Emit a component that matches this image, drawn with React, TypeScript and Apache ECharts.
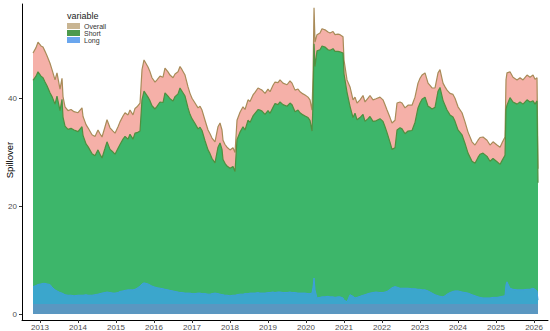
import React, { useEffect, useRef } from "react";
import * as echarts from "echarts";

const dates = [
  2012.816, 2012.895, 2012.947, 2013.026, 2013.079, 2013.132, 2013.184, 2013.263, 2013.316, 2013.395,
  2013.447, 2013.526, 2013.579, 2013.605, 2013.658, 2013.737, 2013.816, 2013.895, 2014.0, 2014.105,
  2014.132, 2014.211, 2014.263, 2014.368, 2014.447, 2014.526, 2014.579, 2014.632, 2014.711, 2014.763,
  2014.842, 2014.921, 2014.974, 2015.053, 2015.105, 2015.184, 2015.237, 2015.316, 2015.368, 2015.447,
  2015.5, 2015.553, 2015.632, 2015.684, 2015.737, 2015.842, 2015.895, 2015.947, 2016.026, 2016.079,
  2016.158, 2016.237, 2016.289, 2016.368, 2016.421, 2016.5, 2016.553, 2016.632, 2016.684, 2016.737,
  2016.816, 2016.895, 2016.947, 2017.0, 2017.079, 2017.158, 2017.211, 2017.263, 2017.342, 2017.421,
  2017.474, 2017.526, 2017.605, 2017.684, 2017.737, 2017.789, 2017.816, 2017.868, 2017.921, 2018.0,
  2018.079, 2018.132, 2018.184, 2018.263, 2018.342, 2018.395, 2018.474, 2018.526, 2018.605, 2018.658,
  2018.737, 2018.789, 2018.842, 2018.921, 2019.0, 2019.053, 2019.132, 2019.184, 2019.263, 2019.316,
  2019.395, 2019.5, 2019.579, 2019.632, 2019.711, 2019.789, 2019.842, 2019.921, 2019.974, 2020.053,
  2020.105, 2020.158, 2020.184, 2020.211, 2020.237, 2020.289, 2020.368, 2020.421, 2020.5, 2020.579,
  2020.632, 2020.711, 2020.763, 2020.842, 2020.895, 2020.974, 2021.0, 2021.079, 2021.158, 2021.237,
  2021.289, 2021.342, 2021.421, 2021.5, 2021.553, 2021.632, 2021.684, 2021.763, 2021.842, 2021.947,
  2022.026, 2022.079, 2022.132, 2022.211, 2022.263, 2022.342, 2022.395, 2022.474, 2022.526, 2022.605,
  2022.684, 2022.789, 2022.868, 2022.947, 2023.0, 2023.053, 2023.132, 2023.211, 2023.263, 2023.316,
  2023.395, 2023.474, 2023.526, 2023.605, 2023.658, 2023.711, 2023.789, 2023.868, 2023.921, 2024.0,
  2024.105, 2024.184, 2024.263, 2024.368, 2024.447, 2024.526, 2024.579, 2024.658, 2024.763, 2024.842,
  2024.921, 2025.026, 2025.105, 2025.158, 2025.237, 2025.263, 2025.289, 2025.368, 2025.447, 2025.553,
  2025.632, 2025.711, 2025.816, 2025.895, 2025.974, 2026.026, 2026.079, 2026.105,
];

const overall = [
  48.5, 49.5, 50.5, 49.8, 49.6, 48.8, 48.0, 46.6, 45.4, 43.5,
  44.8, 41.8, 43.8, 40.4, 38.5, 37.8, 38.0, 37.6, 37.4, 38.3,
  36.7, 35.2, 34.6, 33.3, 33.0, 34.2, 33.5, 32.9, 34.8, 36.1,
  34.6, 34.0, 33.6, 34.8, 35.7, 36.8, 37.4, 37.0, 37.9, 37.0,
  38.2, 38.5, 39.2, 45.4, 47.2, 45.9, 45.0, 43.9, 43.1, 43.5,
  44.2, 44.0, 45.7, 45.0, 44.4, 43.9, 44.6, 45.0, 46.0, 45.4,
  44.4, 42.2, 41.0, 40.1, 39.2, 38.3, 38.6, 37.9, 36.0, 34.2,
  33.5, 32.7, 32.0, 34.8, 35.5, 34.2, 32.3, 31.5, 31.0, 30.5,
  30.9, 30.0, 36.0, 37.5, 38.5, 38.0, 39.8, 39.5, 40.7, 41.2,
  42.0, 41.8, 41.6, 41.0, 41.8, 41.3, 42.5, 43.1, 43.0, 43.5,
  42.9, 42.6, 43.3, 42.9, 41.6, 41.8, 41.3, 40.9, 40.7, 40.3,
  39.8, 37.9, 44.0, 56.9, 50.5, 51.9, 52.2, 53.0, 52.8, 52.4,
  52.2, 52.5, 51.9, 52.0, 51.9, 51.5, 47.2, 43.5, 42.2, 39.8,
  40.3, 39.2, 39.8, 40.6, 39.4, 40.1, 40.6, 39.8, 40.0, 40.3,
  39.8, 38.9, 37.9, 36.5, 35.5, 36.0, 39.2, 39.4, 39.2, 38.3,
  38.8, 38.8, 40.3, 42.9, 43.8, 44.4, 44.8, 42.9, 42.5, 42.0,
  42.0, 44.8, 45.4, 42.9, 42.2, 41.6, 41.0, 40.8, 40.1, 38.5,
  37.4, 35.7, 33.8, 32.0, 31.4, 32.3, 32.8, 32.9, 32.3, 31.4,
  32.0, 31.4, 31.0, 31.8, 32.9, 43.5, 44.8, 45.0, 44.0, 43.5,
  43.9, 43.5, 44.4, 44.0, 44.4, 43.6, 43.9, 27.0,
];

const short = [
  43.4, 44.2, 45.0, 44.2, 43.9, 43.1, 42.4, 41.1, 40.4, 39.0,
  40.5, 37.8, 39.9, 36.6, 34.9, 34.3, 34.5, 34.2, 33.9, 34.8,
  33.2, 31.6, 31.1, 29.8, 29.4, 30.5, 29.7, 29.0, 30.8, 32.0,
  30.6, 30.1, 29.7, 30.8, 31.5, 32.5, 33.0, 32.5, 33.4, 32.5,
  33.6, 33.7, 34.0, 39.8, 41.4, 40.3, 39.6, 38.7, 38.1, 38.6,
  39.4, 39.3, 41.1, 40.5, 40.0, 39.6, 40.4, 40.9, 42.0, 41.4,
  40.5, 38.3, 37.1, 36.3, 35.4, 34.4, 34.7, 34.1, 32.2, 30.5,
  29.8, 28.9, 28.1, 31.0, 31.8, 30.6, 28.7, 28.0, 27.5, 27.1,
  27.4, 26.5, 32.4, 33.8, 34.8, 34.2, 36.0, 35.6, 36.8, 37.3,
  38.0, 37.9, 37.7, 37.1, 37.8, 37.3, 38.4, 39.1, 38.9, 39.4,
  38.9, 38.6, 39.2, 38.9, 37.6, 37.9, 37.4, 37.0, 36.8, 36.5,
  36.0, 34.0, 39.0, 50.2, 46.0, 48.9, 49.1, 49.8, 49.6, 49.1,
  49.0, 49.3, 48.8, 48.8, 48.7, 48.5, 44.6, 41.2, 38.6, 36.5,
  37.3, 36.1, 36.5, 37.1, 35.8, 36.3, 36.7, 35.8, 35.9, 36.3,
  35.8, 34.8, 33.7, 31.9, 30.6, 30.9, 34.2, 34.6, 34.4, 33.5,
  34.0, 34.1, 35.6, 38.3, 39.2, 39.9, 40.3, 38.6, 38.4, 38.1,
  38.4, 41.4, 42.1, 39.7, 38.8, 37.9, 37.0, 36.6, 35.8, 34.2,
  33.3, 31.7, 29.9, 28.4, 28.0, 29.1, 29.7, 29.9, 29.3, 28.4,
  28.9, 28.3, 27.8, 28.5, 29.5, 38.0, 38.8, 40.2, 39.4, 39.0,
  39.4, 39.0, 39.8, 39.4, 39.6, 39.0, 39.6, 24.4,
];

const long = [
  5.1, 5.3, 5.5, 5.6, 5.7, 5.7, 5.6, 5.5, 5.0, 4.5,
  4.3, 4.0, 3.9, 3.8, 3.6, 3.5, 3.5, 3.4, 3.5, 3.5,
  3.5, 3.6, 3.5, 3.5, 3.6, 3.7, 3.8, 3.9, 4.0, 4.1,
  4.0, 3.9, 3.9, 4.0, 4.2, 4.3, 4.4, 4.5, 4.5, 4.5,
  4.6, 4.8, 5.2, 5.6, 5.8, 5.6, 5.4, 5.2, 5.0, 4.9,
  4.8, 4.7, 4.6, 4.5, 4.4, 4.3, 4.2, 4.1, 4.0, 4.0,
  3.9, 3.9, 3.9, 3.8, 3.8, 3.9, 3.9, 3.8, 3.8, 3.7,
  3.7, 3.8, 3.9, 3.8, 3.7, 3.6, 3.6, 3.5, 3.5, 3.4,
  3.5, 3.5, 3.6, 3.7, 3.7, 3.8, 3.8, 3.9, 3.9, 3.9,
  4.0, 3.9, 3.9, 3.9, 4.0, 4.0, 4.1, 4.0, 4.1, 4.1,
  4.0, 4.0, 4.1, 4.0, 4.0, 3.9, 3.9, 3.9, 3.9, 3.8,
  3.8, 3.9, 5.0, 6.7, 4.5, 3.0, 3.1, 3.2, 3.2, 3.3,
  3.2, 3.2, 3.1, 3.2, 3.2, 3.0, 2.6, 2.3, 3.6, 3.3,
  3.0, 3.1, 3.3, 3.5, 3.6, 3.8, 3.9, 4.0, 4.1, 4.0,
  4.0, 4.1, 4.2, 4.6, 4.9, 5.1, 5.0, 4.8, 4.8, 4.8,
  4.8, 4.7, 4.7, 4.6, 4.6, 4.5, 4.5, 4.3, 4.1, 3.9,
  3.6, 3.4, 3.3, 3.2, 3.4, 3.7, 4.0, 4.2, 4.3, 4.3,
  4.1, 4.0, 3.9, 3.6, 3.4, 3.2, 3.1, 3.0, 3.0, 3.0,
  3.1, 3.1, 3.2, 3.3, 3.4, 5.5, 6.0, 4.8, 4.6, 4.5,
  4.5, 4.5, 4.6, 4.6, 4.8, 4.6, 4.3, 2.6,
];

const yearTicks = [2013, 2014, 2015, 2016, 2017, 2018, 2019, 2020, 2021, 2022, 2023, 2024, 2025, 2026];
const yTicks = [0, 20, 40];
const legendItems = ["Overall", "Short", "Long"];

const FONT = "Liberation Sans, Arial, sans-serif";

export default function App() {
  const ref = useRef<HTMLDivElement>(null);

  useEffect(() => {
    if (!ref.current) return;
    const chart = echarts.init(ref.current, undefined, { renderer: "svg" });
    const pairs = (vals: number[]) => dates.map((d, i) => [d, vals[i]]);

    const longFill = new echarts.graphic.LinearGradient(
      0, 0, 0, 331,
      [
        { offset: 0, color: "#3ba6cc" },
        { offset: 0.918, color: "#3ba6cc" },
        { offset: 0.918, color: "#5a97c1" },
        { offset: 1, color: "#5a97c1" },
      ],
      true
    );

    const keyColors = ["#c9b592", "#4c9a4c", "#6aa6ee"];
    const legendGraphics: any[] = [
      {
        type: "text",
        x: 67,
        y: 11,
        style: { text: "variable", font: `9px ${FONT}`, fill: "#222", lineHeight: 9 },
      },
      {
        type: "text",
        x: 9,
        y: 160,
        rotation: Math.PI / 2,
        style: {
          text: "Spillover",
          font: `9.5px ${FONT}`,
          fill: "#000",
          align: "center",
          verticalAlign: "middle",
        },
      },
    ];
    legendItems.forEach((name, i) => {
      legendGraphics.push({
        type: "rect",
        shape: { x: 67, y: 23 + i * 7, width: 13, height: 6 },
        style: { fill: keyColors[i] },
      });
      legendGraphics.push({
        type: "text",
        x: 84,
        y: 22.8 + i * 7,
        style: { text: name, font: `7px ${FONT}`, fill: "#333", lineHeight: 7, verticalAlign: "top" },
      });
    });

    chart.setOption({
      animation: false,
      grid: { left: 22, right: 2, top: 4, bottom: 11, containLabel: false, outerBoundsMode: "none" },
      xAxis: {
        type: "value",
        min: 2012.526,
        max: 2026.368,
        splitLine: { show: false },
        axisLine: { show: true, onZero: false, lineStyle: { color: "#000", width: 1 } },
        axisTick: { show: true, length: 3, customValues: yearTicks, lineStyle: { color: "#333" } },
        axisLabel: {
          show: true,
          customValues: yearTicks,
          formatter: (v: number) => String(Math.round(v)),
          fontSize: 8,
          fontFamily: FONT,
          color: "#4d4d4d",
          margin: 3,
        },
      },
      yAxis: {
        type: "value",
        min: -1.1,
        max: 57.6,
        splitLine: { show: false },
        axisLine: { show: true, onZero: false, lineStyle: { color: "#000", width: 1 } },
        axisTick: { show: true, length: 3, customValues: yTicks, lineStyle: { color: "#333" } },
        axisLabel: {
          show: true,
          customValues: yTicks,
          fontSize: 8,
          fontFamily: FONT,
          color: "#4d4d4d",
          margin: 5,
        },
      },
      graphic: legendGraphics,
      series: [
        {
          name: "Overall",
          type: "line",
          data: pairs(overall),
          showSymbol: false,
          symbol: "none",
          lineStyle: { color: "#a88b58", width: 1.2 },
          areaStyle: { color: "#f5b0a8", opacity: 1 },
          z: 1,
        },
        {
          name: "Short",
          type: "line",
          data: pairs(short),
          showSymbol: false,
          symbol: "none",
          lineStyle: { color: "#4f8f3f", width: 1.2 },
          areaStyle: { color: "#3db66a", opacity: 1 },
          z: 2,
        },
        {
          name: "Long",
          type: "line",
          data: pairs(long),
          showSymbol: false,
          symbol: "none",
          lineStyle: { color: "#3e9fdc", width: 1 },
          areaStyle: { color: longFill, opacity: 1 },
          z: 3,
        },
      ],
    });

    return () => chart.dispose();
  }, []);

  return (
    <div
      ref={ref}
      style={{ position: "fixed", left: 0, top: 0, width: 550, height: 331, background: "#fff" }}
    />
  );
}
